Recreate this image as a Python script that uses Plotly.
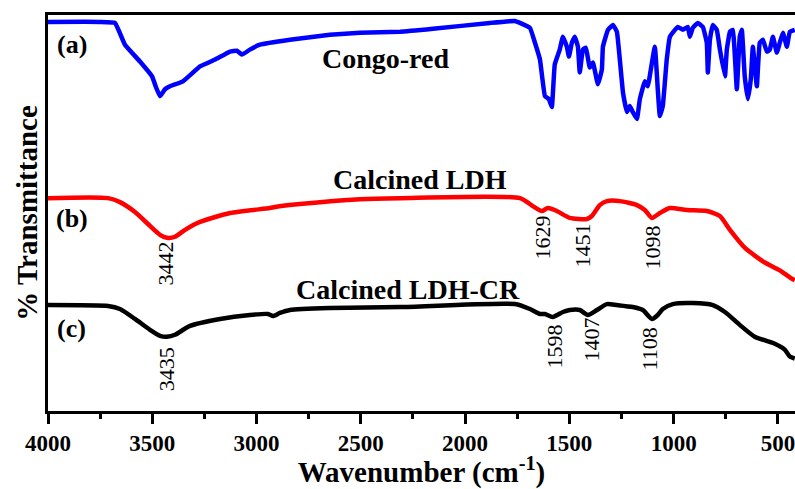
import plotly.graph_objects as go

# ---- data (wavenumber cm^-1, % transmittance, offset stacked) ----
cr_wn = [4000, 3751, 3679, 3631, 3559, 3501, 3482, 3463, 3439, 3415, 3353, 3271, 3199, 3127, 3094, 3070, 3032, 2984, 2840, 2648, 2504, 2312, 2154, 1881, 1761, 1737, 1689, 1665, 1641, 1617, 1598, 1584, 1570, 1546, 1531, 1512, 1502, 1488, 1474, 1459, 1450, 1435, 1421, 1402, 1387, 1363, 1344, 1339, 1315, 1291, 1272, 1258, 1243, 1224, 1210, 1196, 1176, 1162, 1138, 1124, 1104, 1090, 1076, 1066, 1052, 1033, 1018, 980, 956, 932, 922, 908, 884, 860, 841, 836, 826, 812, 793, 778, 754, 745, 730, 716, 697, 683, 673, 659, 644, 630, 620, 601, 587, 572, 553, 539, 524, 505, 491, 476, 457, 443, 419]
cr_t = [98.25, 98.25, 98, 92.5, 88.25, 84.5, 81.75, 79.5, 81.25, 82, 83.25, 87, 88.75, 90.75, 91, 90, 91.25, 92.5, 93.75, 95, 95.5, 95.75, 96.5, 98, 98.5, 98, 96.75, 93, 88.75, 79.5, 78.75, 76.75, 87.5, 91.25, 94.5, 92, 89.5, 93, 94.5, 92, 85.5, 91.25, 91.75, 86.75, 88, 82.5, 86.25, 92, 96.25, 97.5, 95.75, 88.75, 80.5, 75.5, 77, 75.5, 73.75, 78.75, 83.25, 82, 88, 92, 81.25, 74.5, 77, 88.75, 94.5, 97, 96.25, 97, 94.5, 96.75, 98, 97, 93, 85.5, 93.75, 97.5, 96.25, 91.25, 84.5, 91.25, 95.75, 96.25, 81.25, 94.5, 96.25, 84.5, 78.75, 83.75, 92, 82, 93, 93.75, 90.75, 91.25, 94.5, 90.5, 93, 95.5, 92, 95.75, 96.25]

ldh_wn = [4000, 3712, 3655, 3583, 3511, 3463, 3430, 3391, 3343, 3271, 3127, 2936, 2912, 2792, 2504, 2312, 1737, 1675, 1632, 1603, 1560, 1498, 1416, 1392, 1354, 1320, 1258, 1176, 1138, 1104, 1066, 1018, 937, 841, 778, 730, 659, 611, 563, 491, 443, 419]
ldh_t = [53.75, 53.75, 52.75, 50.25, 46.75, 44.5, 43.75, 44, 45.75, 47.75, 50, 51.25, 51.5, 52.25, 53.5, 53.75, 53.75, 51.75, 50.5, 51.25, 50.5, 48.75, 48.5, 49.25, 52, 53, 53, 52, 50.75, 48.75, 50, 51.25, 50.75, 50.5, 49.25, 45.75, 41.25, 39.25, 37.5, 35.5, 33.75, 33]

cr2_wn = [4000, 3712, 3655, 3583, 3511, 3463, 3430, 3391, 3319, 3175, 3032, 2945, 2921, 2888, 2840, 2648, 2312, 1761, 1689, 1641, 1617, 1579, 1531, 1498, 1450, 1411, 1368, 1320, 1272, 1196, 1148, 1104, 1076, 1052, 1004, 908, 812, 754, 683, 611, 515, 467, 443, 419]
cr2_t = [26.75, 26.5, 25.75, 23.25, 20.5, 19, 18.75, 19.25, 21.5, 23.25, 24.25, 24.5, 24.0, 24.75, 25.5, 26, 26.25, 27, 25.75, 24.5, 24.5, 23.75, 25, 25.5, 25.5, 24.25, 25.5, 27, 26.75, 26.25, 25.5, 23.25, 24.25, 25.75, 27, 27.25, 26.75, 25, 21.75, 18.75, 17, 15.5, 13.75, 13.25]

# peak labels
peak_text = ["3442", "1629", "1451", "1098", "3435", "1598", "1407", "1108"]
peak_x = [3439, 1627, 1435, 1100, 3430, 1569, 1392, 1114]
peak_y = [37.25, 43.75, 41.75, 41.25, 10.5, 16.25, 18, 15.75]

# sample labels
tag_text = ["(a)", "(b)", "(c)"]
tag_x = [3885, 3885, 3885]
tag_y = [92.5, 48.5, 20.75]

name_text = ["Congo-red", "Calcined LDH", "Calcined LDH-CR"]
name_x = [2380, 2217, 2274]
name_y = [89, 58.5, 30.75]

xtick_vals = [4000, 3500, 3000, 2500, 2000, 1500, 1000, 500]
xminor_vals = [3750, 3250, 2750, 2250, 1750, 1250, 750]

FONT = "Liberation Serif"

fig = go.Figure()
fig.add_trace(go.Scatter(x=cr_wn, y=cr_t, mode="lines", line_shape="spline",
                         line=dict(color="#0000ff", width=4.5, smoothing=0.3), showlegend=False))
fig.add_trace(go.Scatter(x=ldh_wn, y=ldh_t, mode="lines", line_shape="spline",
                         line=dict(color="#ff0000", width=4.5, smoothing=0.6), showlegend=False))
fig.add_trace(go.Scatter(x=cr2_wn, y=cr2_t, mode="lines", line_shape="spline",
                         line=dict(color="#000000", width=4.5, smoothing=0.6), showlegend=False))

for t, x, y in zip(peak_text, peak_x, peak_y):
    fig.add_annotation(x=x, y=y, text=t, textangle=-90, showarrow=False,
                       xanchor="center", yanchor="middle",
                       font=dict(family=FONT, size=22, color="black"))
for t, x, y in zip(tag_text, tag_x, tag_y):
    fig.add_annotation(x=x, y=y, text="<b>" + t + "</b>", showarrow=False,
                       xanchor="center", yanchor="middle",
                       font=dict(family=FONT, size=26, color="black"))
for t, x, y in zip(name_text, name_x, name_y):
    fig.add_annotation(x=x, y=y, text="<b>" + t + "</b>", showarrow=False,
                       xanchor="center", yanchor="middle",
                       font=dict(family=FONT, size=28, color="black"))

fig.update_layout(
    width=795, height=489,
    margin=dict(l=48, r=0, t=15, b=74),
    paper_bgcolor="white", plot_bgcolor="white",
    font=dict(family=FONT, color="black"),
    xaxis=dict(range=[4000, 418], tickvals=xtick_vals,
               ticks="outside", ticklen=10, tickwidth=2.5, tickcolor="black",
               ticklabeloverflow="allow",
               minor=dict(tickvals=xminor_vals,
                          ticks="outside", ticklen=5, tickwidth=2.5, tickcolor="black"),
               showline=True, linecolor="black", linewidth=2.5, mirror=True,
               showgrid=False, zeroline=False,
               tickfont=dict(family=FONT, size=23, color="black", weight="bold"),
               title=dict(text="<b>Wavenumber (cm<sup>-1</sup>)</b>", standoff=12,
                          font=dict(family=FONT, size=29, color="black"))),
    yaxis=dict(range=[0, 100], showticklabels=False, ticks="",
               showline=True, linecolor="black", linewidth=2.5,
               showgrid=False, zeroline=False,
               title=dict(text="<b>% Transmittance</b>", standoff=0,
                          font=dict(family=FONT, size=29, color="black"))),
)

fig.write_html("out.html")
